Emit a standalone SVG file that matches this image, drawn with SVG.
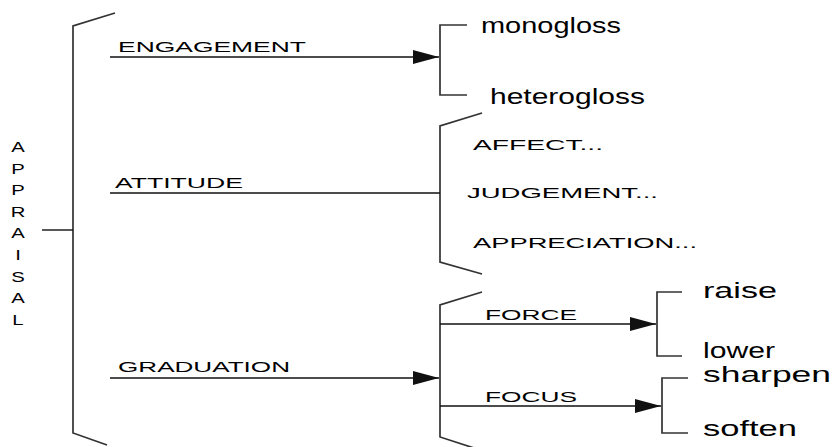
<svg xmlns="http://www.w3.org/2000/svg" width="835" height="447" viewBox="0 0 835 447">
<defs>
<style>
.cap{font-family:"Liberation Sans",Arial,sans-serif;font-size:14px;fill:#000}
.low{font-family:"Liberation Sans",Arial,sans-serif;font-size:22px;fill:#000}
.ln{stroke:#111;stroke-width:1.4;fill:none}
.br{stroke:#333;stroke-width:1.7;fill:none}
</style>
<marker id="ah" markerUnits="userSpaceOnUse" markerWidth="26" markerHeight="14" refX="26" refY="7" orient="auto">
<path d="M0,0 L26,7 L0,14 Z" fill="#111"/>
</marker>
</defs>
<rect width="835" height="447" fill="#fff"/>

<g id="appraisal">
<g class="cap" text-anchor="middle">
<text transform="translate(18,152) scale(1.45,1)">A</text>
<text transform="translate(18,173.6) scale(1.45,1)">P</text>
<text transform="translate(18,195.2) scale(1.45,1)">P</text>
<text transform="translate(18,216.8) scale(1.45,1)">R</text>
<text transform="translate(18,238.4) scale(1.45,1)">A</text>
<text transform="translate(18,260) scale(1.45,1)">I</text>
<text transform="translate(18,281.6) scale(1.45,1)">S</text>
<text transform="translate(18,303.2) scale(1.45,1)">A</text>
<text transform="translate(18,324.8) scale(1.45,1)">L</text>
</g>
<polyline class="br" points="115,13 73,26 73,433 107,445"/>
</g>

<g id="engagement">
<text class="cap" x="118" y="52" textLength="188" lengthAdjust="spacingAndGlyphs">ENGAGEMENT</text>
</g>
<g id="attitude">
<text class="cap" x="115" y="188" textLength="128" lengthAdjust="spacingAndGlyphs">ATTITUDE</text>
</g>
<g id="graduation">
<text class="cap" x="118" y="372" textLength="172" lengthAdjust="spacingAndGlyphs">GRADUATION</text>
</g>

<g id="engagement-options">
<polyline class="br" points="467,25 440,25 440,95 467,95"/>
<text class="low" x="481" y="33" textLength="140" lengthAdjust="spacingAndGlyphs">monogloss</text>
<text class="low" x="490" y="104" textLength="155" lengthAdjust="spacingAndGlyphs">heterogloss</text>
</g>

<g id="attitude-options">
<polyline class="br" points="482,113 440,126 440,262 482,274"/>
<text class="cap" x="473" y="150" textLength="130" lengthAdjust="spacingAndGlyphs">AFFECT...</text>
<text class="cap" x="467" y="198" textLength="191" lengthAdjust="spacingAndGlyphs">JUDGEMENT...</text>
<text class="cap" x="473" y="248" textLength="224" lengthAdjust="spacingAndGlyphs">APPRECIATION...</text>
</g>

<g id="graduation-options">
<polyline class="br" points="482,292 440,305 440,437 474,448"/>
<text class="cap" x="485" y="320" textLength="92" lengthAdjust="spacingAndGlyphs">FORCE</text>
<text class="cap" x="485" y="402" textLength="92" lengthAdjust="spacingAndGlyphs">FOCUS</text>
</g>

<g id="force-options">
<polyline class="br" points="682,292 657,292 657,356 682,356"/>
<text class="low" x="703" y="298" textLength="74" lengthAdjust="spacingAndGlyphs">raise</text>
<text class="low" x="703" y="358" textLength="72" lengthAdjust="spacingAndGlyphs">lower</text>
</g>

<g id="focus-options">
<polyline class="br" points="688,378 662,378 662,433 688,433"/>
<text class="low" x="703" y="382" textLength="128" lengthAdjust="spacingAndGlyphs">sharpen</text>
<text class="low" x="703" y="436" textLength="94" lengthAdjust="spacingAndGlyphs">soften</text>
</g>

<g id="connectors">
<line class="ln" x1="42" y1="230" x2="73" y2="230"/>
<line class="ln" x1="110" y1="57" x2="439" y2="57" marker-end="url(#ah)"/>
<line class="ln" x1="110" y1="193" x2="440" y2="193"/>
<line class="ln" x1="110" y1="378" x2="439" y2="378" marker-end="url(#ah)"/>
<line class="ln" x1="440" y1="324" x2="656" y2="324" marker-end="url(#ah)"/>
<line class="ln" x1="440" y1="406" x2="661" y2="406" marker-end="url(#ah)"/>
</g>
</svg>
